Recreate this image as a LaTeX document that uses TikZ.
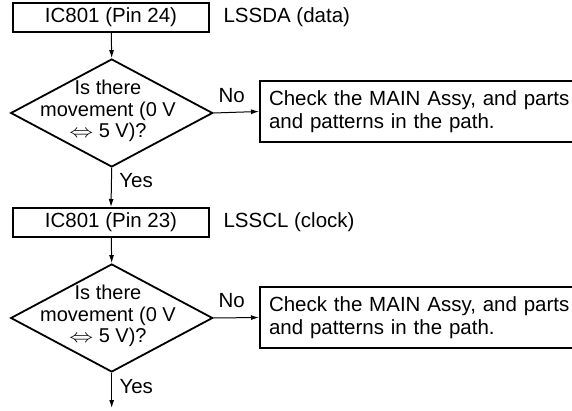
\documentclass[tikz,border=0pt]{standalone}
\usepackage{amsmath,amssymb}
\usepackage{graphicx}
\usepackage{fontspec}
\setmainfont{Liberation Sans}
\usepackage{tikz}
\usetikzlibrary{shapes.geometric,arrows.meta,positioning,calc}

\tikzset{
  txt/.style={font=\fontsize{20.5}{21}\selectfont},
  pinbox/.style={draw,line width=2pt,rectangle,minimum width=196pt,minimum height=29pt,inner sep=0pt,txt},
  querybox/.style={draw,line width=1.8pt,diamond,minimum width=202pt,minimum height=108pt,inner sep=0pt},
  querytext/.style={align=center,inner sep=0pt,font=\fontsize{20}{21.5}\selectfont},
  checkbox/.style={draw,line width=2pt,rectangle,anchor=west,text width=312pt,inner xsep=9pt,
    minimum height=61pt,align=left,font=\fontsize{20.5}{23}\selectfont},
  flow/.style={line width=1pt,-{Latex[length=8pt,width=5pt]}}
}
\newcommand{\eqv}{\scalebox{1.15}[0.9]{$\Leftrightarrow$}}

\begin{document}
\begin{tikzpicture}[x=1pt,y=-1pt]
  \useasboundingbox (0,0) rectangle (572,411);
  % first check: data line
  \node[pinbox] (pin1) at (111,17.5) {IC801 (Pin 24)};
  \node[txt,right=10pt of pin1] (sig1) {LSSDA (data)};
  \node[querybox] (q1) at (111.7,113) {};
  \node[querytext] (q1t) at (108,111) {Is there\\movement (0 V\\\eqv\ 5 V)?};
  \node[checkbox] (chk1) at (259,111.5) {Check the MAIN Assy, and parts\\and patterns in the path.};
  % second check: clock line
  \node[pinbox] (pin2) at (111,222.5) {IC801 (Pin 23)};
  \node[txt,right=10pt of pin2] (sig2) {LSSCL (clock)};
  \node[querybox] (q2) at (111.7,318) {};
  \node[querytext] (q2t) at (108,316) {Is there\\movement (0 V\\\eqv\ 5 V)?};
  \node[checkbox] (chk2) at (259,317.5) {Check the MAIN Assy, and parts\\and patterns in the path.};
  \coordinate (done) at (111.7,408);

  \draw[flow] (pin1) -- (q1.north);
  \draw[flow] (q1.east) -- node[txt,above=6pt,pos=0.4] {No} (chk1.west);
  \draw[flow] (q1.south) -- node[txt,right=4pt,pos=0.32] {Yes} (pin2.north);
  \draw[flow] (pin2) -- (q2.north);
  \draw[flow] (q2.east) -- node[txt,above=6pt,pos=0.4] {No} (chk2.west);
  \draw[flow] (q2.south) -- node[txt,right=4pt,pos=0.38] {Yes} (done);
\end{tikzpicture}
\end{document}
